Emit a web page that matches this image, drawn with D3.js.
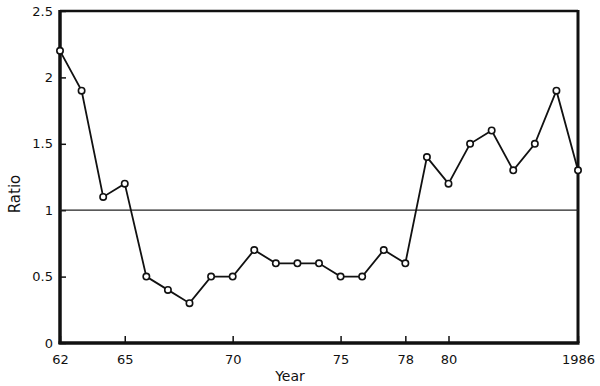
<!DOCTYPE html>
<html><head><meta charset="utf-8">
<script src="https://cdn.jsdelivr.net/npm/d3@7"></script>
<style>body{margin:0;background:#fff}svg{display:block}text{font-family:"DejaVu Sans",sans-serif;fill:#111}</style>
</head><body>
<script>
const years = [62,63,64,65,66,67,68,69,70,71,72,73,74,75,76,77,78,79,80,81,82,83,84,85,86];
const ratio = [2.2,1.9,1.1,1.2,0.5,0.4,0.3,0.5,0.5,0.7,0.6,0.6,0.6,0.5,0.5,0.7,0.6,1.4,1.2,1.5,1.6,1.3,1.5,1.9,1.3];
const xTicks = [62,65,70,75,78,80,86];
const xTickLabels = ["62","65","70","75","78","80","1986"];
const yTicks = [0,0.5,1,1.5,2,2.5];
const yTickLabels = ["0","0.5","1","1.5","2","2.5"];
const refLine = 1;

const W=600,H=386;
const svg=d3.select("body").append("svg").attr("width",W).attr("height",H);
const x=d3.scaleLinear().domain([62,86]).range([60,578]);
const y=d3.scaleLinear().domain([0,2.5]).range([343,11]);

// frame
const g=svg.append("g");
g.append("line").attr("x1",60).attr("x2",578).attr("y1",11).attr("y2",11).attr("stroke","#111").attr("stroke-width",2.5);
g.append("line").attr("x1",578).attr("x2",578).attr("y1",10).attr("y2",343).attr("stroke","#111").attr("stroke-width",3);

// y axis
const yAxis=d3.axisLeft(y).tickValues(yTicks).tickFormat((d,i)=>yTickLabels[i]).tickSizeInner(-6).tickSizeOuter(0).tickPadding(7);
const ya=svg.append("g").attr("transform","translate(60,0)").call(yAxis);
ya.select(".domain").attr("stroke","#111").attr("stroke-width",3.5).attr("d","M0,"+(y(0)+1)+"V"+(y(2.5)-1));
ya.selectAll(".tick line").attr("stroke","#111").attr("stroke-width",1.5);
ya.selectAll(".tick text").style("font-size","13px").attr("fill","#111").style("font-family","DejaVu Sans, sans-serif");

// x axis
const xAxis=d3.axisBottom(x).tickValues(xTicks).tickFormat((d,i)=>xTickLabels[i]).tickSizeInner(-7).tickSizeOuter(0).tickPadding(12);
const xa=svg.append("g").attr("transform","translate(0,"+y(0)+")").call(xAxis);
xa.select(".domain").attr("stroke","#111").attr("stroke-width",3.5).attr("d","M"+(x(62)-1.5)+",0H"+(x(86)+1.5));
xa.selectAll(".tick line").attr("stroke","#111").attr("stroke-width",1.5);
xa.selectAll(".tick text").style("font-size","13px").attr("fill","#111").style("font-family","DejaVu Sans, sans-serif");

// reference line
svg.append("line").attr("x1",x(62)).attr("x2",x(86)).attr("y1",y(refLine)).attr("y2",y(refLine)).attr("stroke","#222").attr("stroke-width",1.2);

// data line
const data=years.map((d,i)=>({yr:d,v:ratio[i]}));
svg.append("path").datum(data).attr("fill","none").attr("stroke","#111").attr("stroke-width",1.8)
  .attr("d",d3.line().x(d=>x(d.yr)).y(d=>y(d.v)));
svg.selectAll("circle.pt").data(data).enter().append("circle").attr("class","pt")
  .attr("cx",d=>x(d.yr)).attr("cy",d=>y(d.v)).attr("r",3.2).attr("fill","#fff").attr("stroke","#111").attr("stroke-width",1.6);

// labels
svg.append("text").attr("x",290).attr("y",381).attr("text-anchor","middle").style("font-size","14px").text("Year");
svg.append("text").attr("transform","translate(20,194) rotate(-90)").attr("text-anchor","middle").style("font-size","15px").text("Ratio");
</script>
</body></html>
